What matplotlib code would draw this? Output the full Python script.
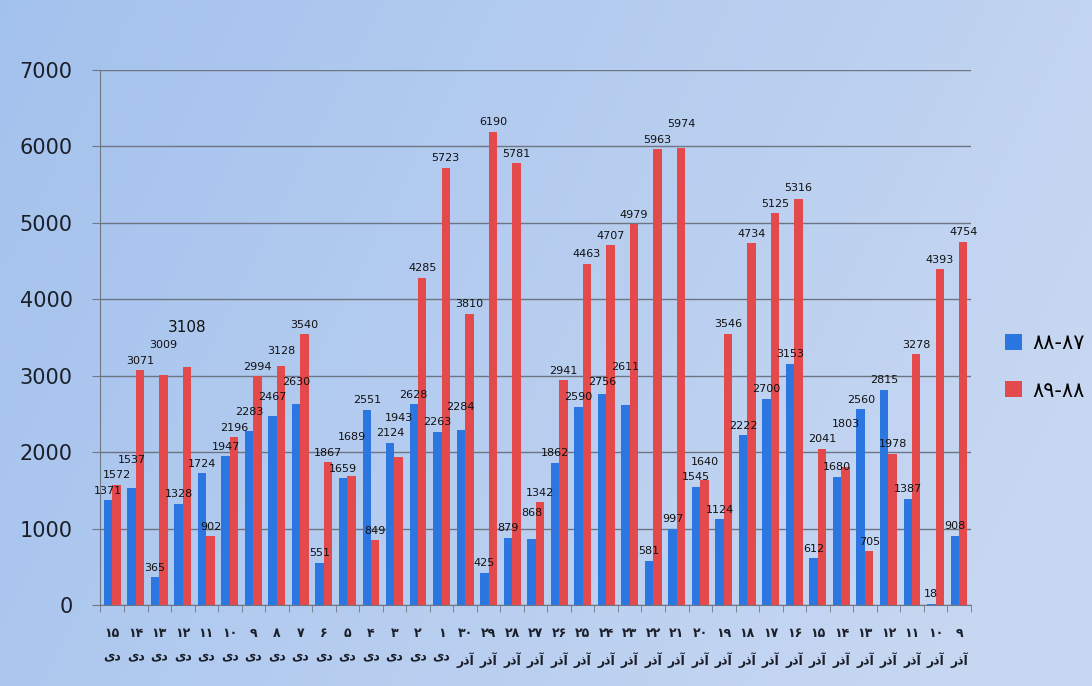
import matplotlib.pyplot as plt
import numpy as np

# Day labels (Persian digits) and month names, left to right
days = ['۱۵', '۱۴', '۱۳', '۱۲', '۱۱', '۱۰', '۹', '۸', '۷', '۶', '۵', '۴', '۳', '۲', '۱',
        '۳۰', '۲۹', '۲۸', '۲۷', '۲۶', '۲۵', '۲۴', '۲۳', '۲۲', '۲۱', '۲۰', '۱۹', '۱۸',
        '۱۷', '۱۶', '۱۵', '۱۴', '۱۳', '۱۲', '۱۱', '۱۰', '۹']
months = ['دی'] * 15 + ['آذر'] * 22

# Series values
s8788 = [1371, 1537, 365, 1328, 1724, 1947, 2283, 2467, 2630, 551, 1659, 2551, 2124,
         2628, 2263, 2284, 425, 879, 868, 1862, 2590, 2756, 2611, 581, 997, 1545, 1124,
         2222, 2700, 3153, 612, 1680, 2560, 2815, 1387, 18, 908]
s8889 = [1572, 3071, 3009, 3108, 902, 2196, 2994, 3128, 3540, 1867, 1689, 849, 1943,
         4285, 5723, 3810, 6190, 5781, 1342, 2941, 4463, 4707, 4979, 5963, 5974, 1640,
         3546, 4734, 5125, 5316, 2041, 1803, 705, 1978, 3278, 4393, 4754]
series_names = ['۸۸-۸۷', '۸۹-۸۸']

plt.rcParams['font.family'] = ['DejaVu Sans']

fig = plt.figure(figsize=(10.92, 6.86), dpi=100)

# photographed slide background: light blue gradient
bg = fig.add_axes([0, 0, 1, 1], zorder=-10)
gx = np.linspace(0, 1, 256)
gy = np.linspace(0, 1, 256)
GX, GY = np.meshgrid(gx, gy)
c_left = np.array([0.64, 0.76, 0.93])
c_right = np.array([0.79, 0.85, 0.95])
t = np.clip(GX * 0.8 + GY * 0.25, 0, 1)[..., None]
img = c_left * (1 - t) + c_right * t
bg.imshow(img, aspect='auto', extent=[0, 1, 0, 1], origin='upper')
bg.axis('off')

ax = fig.add_axes([0.092, 0.118, 0.797, 0.78])
ax.patch.set_alpha(0)

x = np.arange(len(days))
w = 0.36
blue = '#2c76e2'
red = '#e44a4c'
ax.bar(x - w / 2, s8788, width=w, color=blue, label=series_names[0], zorder=3)
ax.bar(x + w / 2, s8889, width=w, color=red, label=series_names[1], zorder=3)

# value labels, left to right; lift a label above any earlier neighbour it would hit
items = []
for i in range(len(days)):
    items.append((x[i] - w / 2, s8788[i]))
    items.append((x[i] + w / 2, s8889[i]))
items.sort(key=lambda p: p[0])
placed = []
gap = 200      # data units, roughly one text height
half_w = 0.62  # category units, roughly half a label's width
for xp, v in items:
    y = v + 60
    moved = True
    while moved:
        moved = False
        for px, py in placed:
            if abs(px - xp) < 2 * half_w and abs(py - y) < gap:
                y = py + gap
                moved = True
    placed.append((xp, y))
    fs = 11 if v == 3108 else 8
    ax.text(xp, y, str(v), ha='center', va='bottom', fontsize=fs,
            color='#111111', zorder=4)

ax.set_ylim(0, 7000)
ax.set_xlim(-0.5, len(days) - 0.5)
ax.set_yticks(np.arange(0, 7001, 1000))
ax.tick_params(axis='y', labelsize=15, colors='#6f7785', labelcolor='#1b1f2a',
               length=6, pad=14)
ax.grid(axis='y', color='#6d7482', linewidth=1.0, zorder=1)

labels = [d + '\n' + m[::-1] for d, m in zip(days, months)]
ax.set_xticks(x)
ax.set_xticklabels(labels, fontsize=9, fontweight='bold', color='#1b1f2a',
                   linespacing=1.9)
ax.tick_params(axis='x', length=0, pad=16)
ax.set_xticks(np.arange(-0.5, len(days), 1), minor=True)
ax.tick_params(axis='x', which='minor', length=5, color='#6f7785')

for s in ['top', 'right']:
    ax.spines[s].set_visible(False)
ax.spines['left'].set_color('#6f7785')
ax.spines['bottom'].set_color('#6f7785')

ax.legend(loc='center left', bbox_to_anchor=(0.913, 0.465), bbox_transform=fig.transFigure,
          frameon=False, fontsize=15, handlelength=0.8, handleheight=0.8,
          handletextpad=0.5, labelspacing=1.3, borderaxespad=0)

fig.savefig('out.png', dpi=100, facecolor=fig.get_facecolor())
